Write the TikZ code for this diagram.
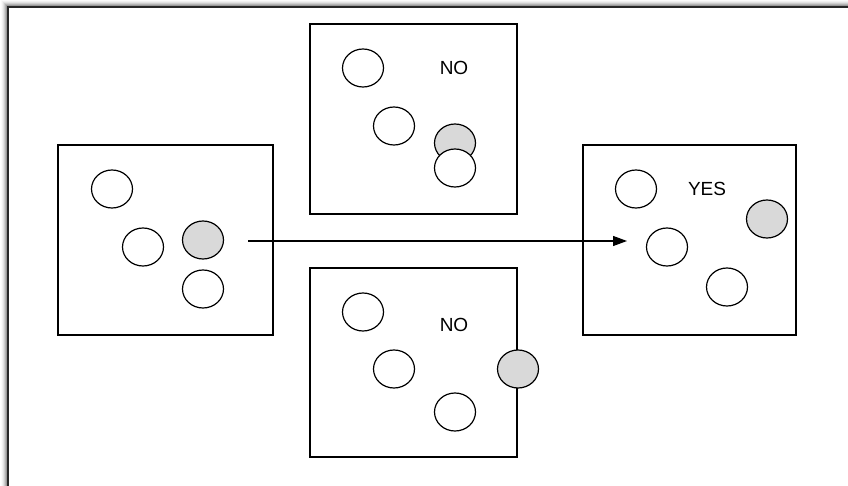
\documentclass[tikz,border=0pt]{standalone}
\usepackage{fontspec}
\setmainfont{Liberation Sans}
\usetikzlibrary{arrows.meta}
\definecolor{ballgray}{HTML}{D9D9D9}
\tikzset{
  panel/.style={draw=black, line width=1.3pt, fill=white},
  disc/.style={draw=black, line width=1.2pt, fill=white},
  tag/.style={font=\fontsize{19}{21}\selectfont, inner sep=0pt},
}
\begin{document}
\begin{tikzpicture}[x=1pt, y=-1pt]
\useasboundingbox (0,0) rectangle (848,486);
% soft shadow along the top and left of the frame
\foreach \d/\o in {1/0.22,2/0.16,3/0.12,4/0.09,5/0.06,6/0.04,7/0.02}
  \fill[black, opacity=\o] (8-\d,7-\d) rectangle (870,500);
\fill[white] (8,7) rectangle (870,500);
\draw[line width=2pt, black!85] (8,7) rectangle (870,500);

% the four panels
\draw[panel] (58,145) rectangle (273,335);
\draw[panel] (310,24) rectangle (517,214);
\draw[panel] (310,268) rectangle (517,457);
\draw[panel] (583,145) rectangle (796,335);

% left panel
\draw[disc] (112,189) ellipse (20.5 and 19);
\draw[disc] (143,247) ellipse (20.5 and 19);
\draw[disc, fill=ballgray] (203,240) ellipse (20.5 and 19);
\draw[disc] (203,289) ellipse (20.5 and 19);

% upper middle panel
\draw[disc] (363,68) ellipse (20.5 and 19);
\draw[disc] (394,126) ellipse (20.5 and 19);
\draw[disc, fill=ballgray] (455,143) ellipse (20.5 and 19);
\draw[disc] (455,168) ellipse (20.5 and 19);
\node[tag] (no1) at (454,68) {NO};

% lower middle panel
\draw[disc] (363,312) ellipse (20.5 and 19);
\draw[disc] (394,369) ellipse (20.5 and 19);
\draw[disc] (455,412) ellipse (20.5 and 19);
\draw[disc, fill=ballgray] (518,369) ellipse (20.5 and 19);
\node[tag] (no2) at (454,325) {NO};

% right panel
\draw[disc] (636,189) ellipse (20.5 and 19);
\draw[disc] (667,247) ellipse (20.5 and 19);
\draw[disc, fill=ballgray] (767,219) ellipse (20.5 and 19);
\draw[disc] (727,287) ellipse (20.5 and 19);
\node[tag] (yes) at (707,189) {YES};

% transition arrow
\coordinate (from) at (248,241);
\coordinate (to) at (627,241);
\draw[line width=1.2pt, -{Triangle[length=14pt, width=10pt]}] (from) -- (to);
\end{tikzpicture}
\end{document}
